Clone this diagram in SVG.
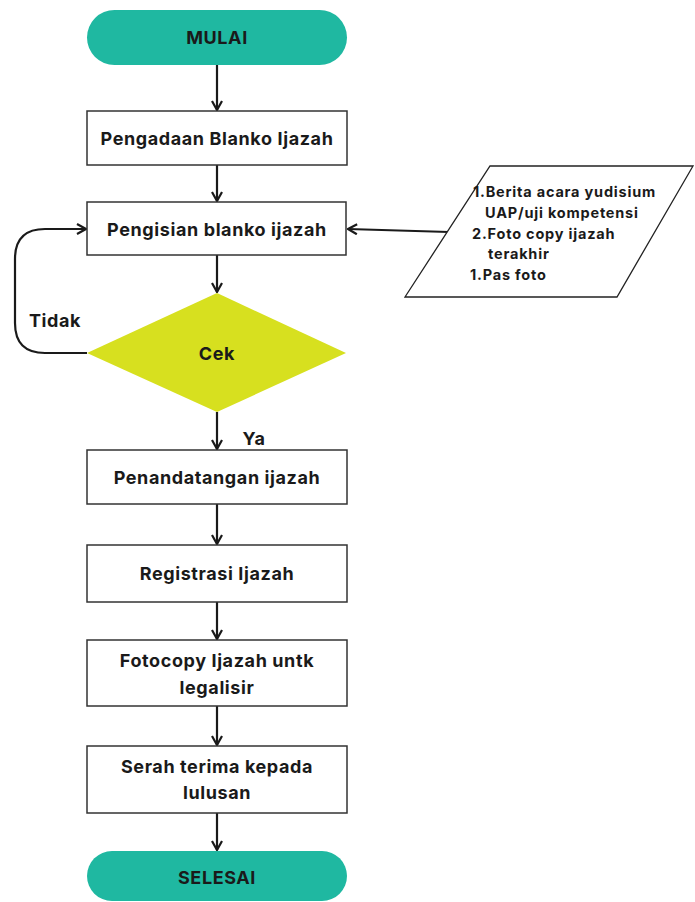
<svg xmlns="http://www.w3.org/2000/svg" width="695" height="902" viewBox="0 0 695 902">
<defs>
<marker id="ah" viewBox="0 0 12 12" refX="11" refY="6" markerWidth="12" markerHeight="12" markerUnits="userSpaceOnUse" orient="auto">
<path d="M2,1 L11,6 L2,11" fill="none" stroke="#1a1a1a" stroke-width="2.2"/>
</marker>
<style>
.box{fill:#fff;stroke:#333;stroke-width:1.5}
.term{fill:#1fb8a1}
.dec{fill:#d7e01f}
.io{fill:#fff;stroke:#222;stroke-width:1.3}
.t{font-family:Inter,"Liberation Sans",sans-serif;font-weight:700;font-size:18px;letter-spacing:0.6px;fill:#1a1a1a;text-anchor:middle;dominant-baseline:central}
.s{font-family:Inter,"Liberation Sans",sans-serif;font-weight:700;font-size:14.5px;letter-spacing:0.8px;fill:#1a1a1a}
.c{fill:none;stroke:#1a1a1a;stroke-width:2.2;marker-end:url(#ah)}
</style>
</defs>
<rect width="695" height="902" fill="#fff"/>
<g id="connectors">
<path class="c" d="M217,65 V110"/>
<path class="c" d="M217,165 V201"/>
<path class="c" d="M217,255 V292"/>
<path class="c" d="M217,412 V449"/>
<path class="c" d="M217,504 V544"/>
<path class="c" d="M217,602 V639"/>
<path class="c" d="M217,706 V745"/>
<path class="c" d="M217,813 V850"/>
<path class="c" d="M87,353 H45 Q15,353 15,323 V259 Q15,229 45,229 H86"/>
<path class="c" d="M449,232 L348,229"/>
<text class="t" x="55" y="320">Tidak</text>
<text class="t" x="254" y="438">Ya</text>
</g>
<g id="mulai">
<rect class="term" x="87" y="10" width="260" height="55" rx="27.5"/>
<text class="t" x="217" y="37">MULAI</text>
</g>
<g id="pengadaan">
<rect class="box" x="87" y="111" width="260" height="54"/>
<text class="t" x="217" y="138">Pengadaan Blanko Ijazah</text>
</g>
<g id="pengisian">
<rect class="box" x="87" y="202" width="259" height="53"/>
<text class="t" x="217" y="229">Pengisian blanko ijazah</text>
</g>
<g id="dokumen">
<polygon class="io" points="490,166 693,166 617,297 405,297"/>
<text class="s" x="473" y="197">1.Berita acara yudisium</text>
<text class="s" x="485" y="218">UAP/uji kompetensi</text>
<text class="s" x="472" y="239">2.Foto copy ijazah</text>
<text class="s" x="488" y="259">terakhir</text>
<text class="s" x="470" y="280">1.Pas foto</text>
</g>
<g id="cek">
<polygon class="dec" points="217,293 346,353 217,412 87,353"/>
<text class="t" x="217" y="353">Cek</text>
</g>
<g id="penandatangan">
<rect class="box" x="87" y="450" width="260" height="54"/>
<text class="t" x="217" y="477">Penandatangan ijazah</text>
</g>
<g id="registrasi">
<rect class="box" x="87" y="545" width="260" height="57"/>
<text class="t" x="217" y="573">Registrasi Ijazah</text>
</g>
<g id="fotocopy">
<rect class="box" x="87" y="640" width="260" height="66"/>
<text class="t" x="217" y="660">Fotocopy Ijazah untk</text>
<text class="t" x="217" y="687">legalisir</text>
</g>
<g id="serah">
<rect class="box" x="87" y="746" width="260" height="67"/>
<text class="t" x="217" y="766">Serah terima kepada</text>
<text class="t" x="217" y="792">lulusan</text>
</g>
<g id="selesai">
<rect class="term" x="87" y="851" width="260" height="50" rx="25"/>
<text class="t" x="217" y="877">SELESAI</text>
</g>
</svg>
